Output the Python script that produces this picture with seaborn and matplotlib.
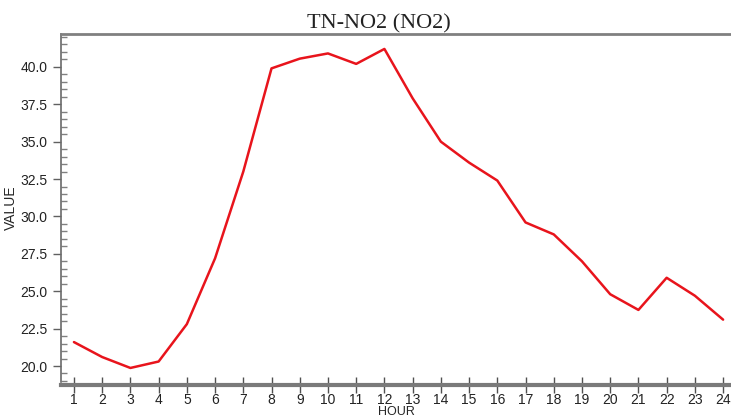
import pandas as pd
import matplotlib.pyplot as plt
import seaborn as sns
from matplotlib.ticker import MultipleLocator

hours = list(range(1, 25))
values = [21.6, 20.6, 19.87, 20.3, 22.8, 27.2, 33.0, 39.9, 40.55, 40.9, 40.2, 41.2,
          37.9, 35.0, 33.6, 32.4, 29.6, 28.8, 27.0, 24.8, 23.75, 25.9, 24.7, 23.1]
title = "TN-NO2 (NO2)"

df = pd.DataFrame({"HOUR": hours, "VALUE": values})

sns.set_style("white")
plt.rcParams["font.family"] = ["Liberation Sans", "DejaVu Sans"]

fig = plt.figure(figsize=(7.31, 4.18), dpi=100)
ax = fig.add_axes([0.0834, 0.0861, 0.9166, 0.8326])

sns.lineplot(data=df, x="HOUR", y="VALUE", color="#e8141c", linewidth=1.8, ax=ax)

ax.set_xlim(0.54, 24.28)
ax.set_ylim(18.93, 42.2)
ax.set_xticks(hours)
ax.yaxis.set_major_locator(MultipleLocator(2.5))
ax.yaxis.set_minor_locator(MultipleLocator(0.5))
ax.yaxis.set_major_formatter(plt.FuncFormatter(lambda v, p: f"{v:.1f}"))

ax.spines["right"].set_visible(False)
ax.spines["top"].set_color("#808080")
ax.spines["top"].set_linewidth(2)
ax.spines["left"].set_color("#6a6a6a")
ax.spines["left"].set_linewidth(1.2)
ax.spines["bottom"].set_color("#7a7a7a")
ax.spines["bottom"].set_linewidth(3)
ax.spines["bottom"].set_position(("outward", 2))

ax.tick_params(axis="y", which="major", direction="out", length=6, width=1,
               color="#606060", labelsize=10, labelcolor="#222222", left=True)
ax.tick_params(axis="y", which="minor", direction="in", length=4, width=1,
               color="#808080", left=True)
ax.tick_params(axis="x", which="major", direction="inout", length=12, width=1,
               color="#505050", labelsize=10, labelcolor="#222222", bottom=True, pad=0)

ax.set_xlabel("HOUR", fontsize=9, labelpad=-1)
ax.set_ylabel("VALUE", fontsize=10, labelpad=2)
ax.set_title(title, fontsize=16, family=["Liberation Serif", "DejaVu Serif"],
             color="#222222", pad=4, x=0.475)

fig.savefig("out.png", dpi=100)
